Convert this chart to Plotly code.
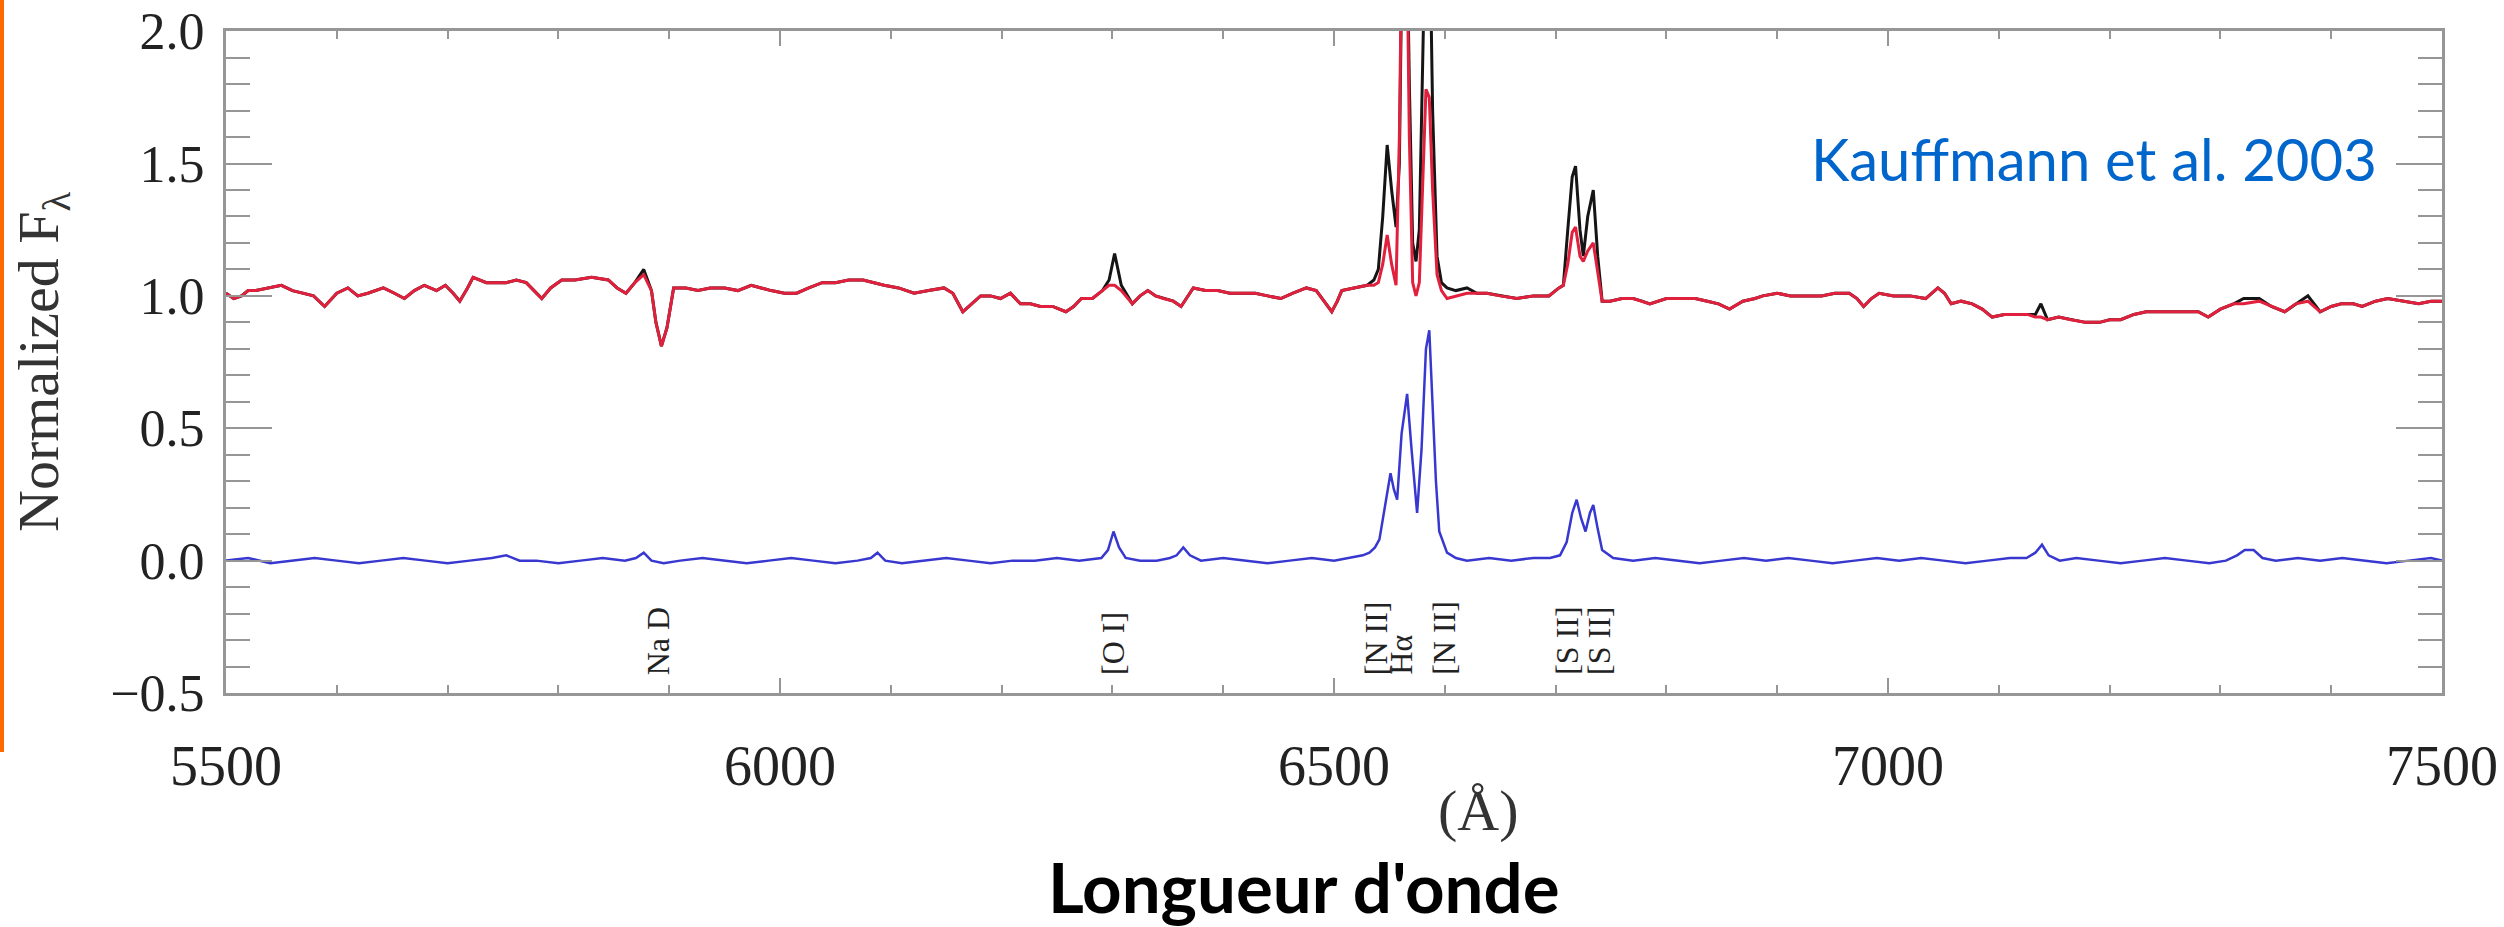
import plotly.graph_objects as go

# ---------------- data ----------------
wave = [5500, 5507, 5514, 5520, 5527, 5538, 5550, 5560, 5569, 5579, 5589, 5600, 5610, 5619, 5628,
        5642, 5652, 5661, 5670, 5679, 5690, 5698, 5705, 5711, 5718, 5723, 5735, 5745, 5753, 5762,
        5771, 5778, 5785, 5793, 5803, 5815, 5830, 5845, 5853, 5861, 5869, 5877, 5884, 5888, 5893,
        5898, 5904, 5915, 5926, 5937, 5950, 5962, 5974, 5983, 5992, 6004, 6015, 6026, 6038, 6050,
        6062, 6075, 6084, 6094, 6107, 6121, 6134, 6148, 6156, 6165, 6173, 6181, 6190, 6199, 6208,
        6217, 6226, 6235, 6246, 6258, 6265, 6272, 6282, 6291, 6297, 6302, 6308, 6318, 6325, 6332,
        6339, 6346, 6355, 6362, 6368, 6373, 6384, 6395, 6406, 6418, 6429, 6440, 6452, 6463, 6475,
        6484, 6491, 6498, 6503, 6507, 6518, 6530, 6536, 6540, 6544, 6548, 6552, 6556, 6559, 6562,
        6565, 6568, 6571, 6574, 6577, 6580, 6583, 6586, 6589, 6593, 6597, 6602, 6610, 6620, 6629,
        6638, 6650, 6665, 6680, 6694, 6703, 6707, 6711, 6715, 6718, 6722, 6725, 6729, 6734, 6738,
        6742, 6749, 6760, 6770, 6778, 6785, 6800, 6815, 6826, 6837, 6847, 6857, 6869, 6880, 6887,
        6900, 6912, 6923, 6940, 6952, 6965, 6972, 6978, 6985, 6992, 7005, 7020, 7034, 7045, 7051,
        7057, 7066, 7076, 7085, 7094, 7105, 7115, 7126, 7133, 7138, 7144, 7154, 7165, 7178, 7191,
        7200, 7210, 7222, 7233, 7250, 7270, 7280, 7289, 7300, 7312, 7321, 7335, 7346, 7358, 7368,
        7379, 7390, 7400, 7409, 7420, 7428, 7440, 7451, 7465, 7479, 7490, 7500]

flux_black = [1.01, 0.99, 1.00, 1.02, 1.02, 1.03, 1.04, 1.02, 1.01, 1.00, 0.96, 1.01, 1.03, 1.00, 1.01,
              1.03, 1.01, 0.99, 1.02, 1.04, 1.02, 1.04, 1.01, 0.98, 1.03, 1.07, 1.05, 1.05, 1.05, 1.06,
              1.05, 1.02, 0.99, 1.03, 1.06, 1.06, 1.07, 1.06, 1.03, 1.01, 1.05, 1.10, 1.02, 0.90, 0.81,
              0.88, 1.03, 1.03, 1.02, 1.03, 1.03, 1.02, 1.04, 1.03, 1.02, 1.01, 1.01, 1.03, 1.05, 1.05,
              1.06, 1.06, 1.05, 1.04, 1.03, 1.01, 1.02, 1.03, 1.01, 0.94, 0.97, 1.00, 1.00, 0.99, 1.01,
              0.97, 0.97, 0.96, 0.96, 0.94, 0.96, 0.99, 0.99, 1.02, 1.06, 1.16, 1.04, 0.97, 1.00, 1.02,
              1.00, 0.99, 0.98, 0.96, 1.00, 1.03, 1.02, 1.02, 1.01, 1.01, 1.01, 1.00, 0.99, 1.01, 1.03,
              1.02, 0.98, 0.94, 0.98, 1.02, 1.03, 1.04, 1.06, 1.10, 1.30, 1.57, 1.40, 1.26, 1.50, 2.50,
              2.60, 1.80, 1.20, 1.13, 1.25, 2.00, 2.50, 2.50, 1.70, 1.15, 1.05, 1.03, 1.02, 1.03, 1.01,
              1.01, 1.00, 0.99, 1.00, 1.00, 1.03, 1.04, 1.25, 1.45, 1.49, 1.25, 1.15, 1.30, 1.40, 1.15,
              0.98, 0.98, 0.99, 0.99, 0.98, 0.97, 0.99, 0.99, 0.99, 0.98, 0.97, 0.95, 0.98, 0.99, 1.00,
              1.01, 1.00, 1.00, 1.00, 1.01, 1.01, 0.99, 0.96, 0.99, 1.01, 1.00, 1.00, 0.99, 1.03, 1.01,
              0.97, 0.98, 0.97, 0.95, 0.92, 0.93, 0.93, 0.93, 0.93, 0.97, 0.91, 0.92, 0.91, 0.90, 0.90,
              0.91, 0.91, 0.93, 0.94, 0.94, 0.94, 0.94, 0.92, 0.95, 0.97, 0.99, 0.99, 0.96, 0.94, 0.97,
              1.00, 0.94, 0.96, 0.97, 0.97, 0.96, 0.98, 0.99, 0.98, 0.97, 0.98, 0.98]

flux_red = [1.01, 0.99, 1.00, 1.02, 1.02, 1.03, 1.04, 1.02, 1.01, 1.00, 0.96, 1.01, 1.03, 1.00, 1.01,
            1.03, 1.01, 0.99, 1.02, 1.04, 1.02, 1.04, 1.01, 0.98, 1.03, 1.07, 1.05, 1.05, 1.05, 1.06,
            1.05, 1.02, 0.99, 1.03, 1.06, 1.06, 1.07, 1.06, 1.03, 1.01, 1.05, 1.08, 1.02, 0.90, 0.81,
            0.88, 1.03, 1.03, 1.02, 1.03, 1.03, 1.02, 1.04, 1.03, 1.02, 1.01, 1.01, 1.03, 1.05, 1.05,
            1.06, 1.06, 1.05, 1.04, 1.03, 1.01, 1.02, 1.03, 1.01, 0.94, 0.97, 1.00, 1.00, 0.99, 1.01,
            0.97, 0.97, 0.96, 0.96, 0.94, 0.96, 0.99, 0.99, 1.02, 1.04, 1.04, 1.02, 0.97, 1.00, 1.02,
            1.00, 0.99, 0.98, 0.96, 1.00, 1.03, 1.02, 1.02, 1.01, 1.01, 1.01, 1.00, 0.99, 1.01, 1.03,
            1.02, 0.98, 0.94, 0.98, 1.02, 1.03, 1.04, 1.04, 1.05, 1.12, 1.23, 1.12, 1.04, 1.60, 2.60,
            2.60, 1.60, 1.05, 1.00, 1.05, 1.40, 1.78, 1.75, 1.40, 1.08, 1.02, 0.99, 1.00, 1.01, 1.01,
            1.01, 1.00, 0.99, 1.00, 1.00, 1.03, 1.04, 1.12, 1.24, 1.26, 1.15, 1.13, 1.17, 1.20, 1.08,
            0.98, 0.98, 0.99, 0.99, 0.98, 0.97, 0.99, 0.99, 0.99, 0.98, 0.97, 0.95, 0.98, 0.99, 1.00,
            1.01, 1.00, 1.00, 1.00, 1.01, 1.01, 0.99, 0.96, 0.99, 1.01, 1.00, 1.00, 0.99, 1.03, 1.01,
            0.97, 0.98, 0.97, 0.95, 0.92, 0.93, 0.93, 0.93, 0.92, 0.92, 0.91, 0.92, 0.91, 0.90, 0.90,
            0.91, 0.91, 0.93, 0.94, 0.94, 0.94, 0.94, 0.92, 0.95, 0.97, 0.97, 0.98, 0.96, 0.94, 0.97,
            0.98, 0.94, 0.96, 0.97, 0.97, 0.96, 0.98, 0.99, 0.98, 0.97, 0.98, 0.98]

wave_res = [5500, 5520, 5540, 5560, 5580, 5600, 5620, 5640, 5660, 5680, 5700, 5720, 5740, 5753, 5765,
            5780, 5800, 5820, 5840, 5860, 5870, 5877, 5884, 5895, 5910, 5930, 5950, 5970, 5990, 6010,
            6030, 6050, 6070, 6082, 6088, 6095, 6110, 6130, 6150, 6170, 6190, 6210, 6230, 6250, 6270,
            6290, 6296, 6301, 6306, 6312, 6325, 6340, 6352, 6358, 6364, 6370, 6380, 6400, 6420, 6440,
            6460, 6480, 6500, 6514, 6526, 6532, 6537, 6541, 6546, 6551, 6554, 6557, 6561, 6566, 6570,
            6575, 6579, 6583, 6586, 6589, 6592, 6595, 6602, 6610, 6620, 6640, 6660, 6680, 6695, 6704,
            6710, 6715, 6719, 6723, 6727, 6731, 6734, 6738, 6742, 6752, 6770, 6790, 6810, 6830, 6850,
            6870, 6890, 6910, 6930, 6950, 6970, 6990, 7010, 7030, 7050, 7070, 7090, 7110, 7125, 7133,
            7139, 7145, 7155, 7170, 7190, 7210, 7230, 7250, 7270, 7290, 7305, 7315, 7322, 7330, 7338,
            7350, 7370, 7390, 7410, 7430, 7450, 7470, 7490, 7500]

flux_blue = [0.00, 0.01, -0.01, 0.00, 0.01, 0.00, -0.01, 0.00, 0.01, 0.00, -0.01, 0.00, 0.01, 0.02, 0.00,
             0.00, -0.01, 0.00, 0.01, 0.00, 0.01, 0.03, 0.00, -0.01, 0.00, 0.01, 0.00, -0.01, 0.00, 0.01,
             0.00, -0.01, 0.00, 0.01, 0.03, 0.00, -0.01, 0.00, 0.01, 0.00, -0.01, 0.00, 0.00, 0.01, 0.00,
             0.01, 0.04, 0.11, 0.05, 0.01, 0.00, 0.00, 0.01, 0.02, 0.05, 0.02, 0.00, 0.01, 0.00, -0.01,
             0.00, 0.01, 0.00, 0.01, 0.02, 0.03, 0.05, 0.08, 0.20, 0.33, 0.27, 0.23, 0.48, 0.63, 0.42,
             0.18, 0.42, 0.80, 0.87, 0.60, 0.30, 0.11, 0.03, 0.01, 0.00, 0.01, 0.00, 0.01, 0.01, 0.02,
             0.07, 0.18, 0.23, 0.16, 0.11, 0.18, 0.21, 0.12, 0.04, 0.01, 0.00, 0.01, 0.00, -0.01, 0.00,
             0.01, 0.00, 0.01, 0.00, -0.01, 0.00, 0.01, 0.00, 0.01, 0.00, -0.01, 0.00, 0.01, 0.01, 0.03,
             0.06, 0.02, 0.00, 0.01, 0.00, -0.01, 0.00, 0.01, 0.00, -0.01, 0.00, 0.02, 0.04, 0.04, 0.01,
             0.00, 0.01, 0.00, 0.01, 0.00, -0.01, 0.00, 0.01, 0.00]

line_names = ["Na D", "[O I]", "[N II]", "Hα", "[N II]", "[S II]", "[S II]"]
line_label_wave = [5890, 6300, 6538, 6561, 6599, 6710, 6739]

x_tick_vals = [5500, 6000, 6500, 7000, 7500]
y_tick_vals = [-0.5, 0.0, 0.5, 1.0, 1.5, 2.0]
y_tick_text = ["\u22120.5", "0.0", "0.5", "1.0", "1.5", "2.0"]

# ---------------- figure ----------------
W, H = 2504, 927
ML, MR, MT, MB = 226, 62, 31, 234
PW, PH = W - ML - MR, H - MT - MB

def px_x(x):
    return (x - ML) / PW

def px_y(y):
    return (H - MB - y) / PH

SERIF = "Liberation Serif, Times New Roman, serif"
AX = "rgb(150,150,150)"

fig = go.Figure()
fig.add_trace(go.Scatter(x=wave, y=flux_black, mode="lines",
                         line=dict(color="#151515", width=3), showlegend=False))
fig.add_trace(go.Scatter(x=wave, y=flux_red, mode="lines",
                         line=dict(color="#E0203C", width=3), showlegend=False))
fig.add_trace(go.Scatter(x=wave_res, y=flux_blue, mode="lines",
                         line=dict(color="#3838D0", width=2.5), showlegend=False))

for name, lw in zip(line_names, line_label_wave):
    fig.add_annotation(x=lw, y=-0.44, xref="x", yref="y", text=name, textangle=-90,
                       showarrow=False, xanchor="center", yanchor="bottom",
                       font=dict(family=SERIF, size=32, color="#222"))

# axis titles and extra texts
fig.add_annotation(x=px_x(42), y=0.5, xref="paper", yref="paper", text="Normalized F<sub>λ</sub>",
                   textangle=-90, showarrow=False, xanchor="center", yanchor="middle",
                   font=dict(family=SERIF, size=58, color="#333"))
fig.add_annotation(x=px_x(1478), y=px_y(810), xref="paper", yref="paper", text="(Å)",
                   showarrow=False, xanchor="center", yanchor="middle",
                   font=dict(family=SERIF, size=58, color="#333"))
fig.add_annotation(x=px_x(1304), y=px_y(886), xref="paper", yref="paper", text="<b>Longueur d'onde</b>",
                   showarrow=False, xanchor="center", yanchor="middle",
                   font=dict(family="Lato, sans-serif", size=69, color="#000"))
fig.add_annotation(x=px_x(2094), y=px_y(158), xref="paper", yref="paper", text="Kauffmann et al. 2003",
                   showarrow=False, xanchor="center", yanchor="middle",
                   font=dict(family="Lato, sans-serif", size=58, color="#0066CC"))

# orange slide bar at the left edge
fig.add_shape(type="line", xref="paper", yref="paper", x0=px_x(2), x1=px_x(2), y0=px_y(752), y1=px_y(0),
              line=dict(color="#FF6A00", width=4))

fig.update_layout(
    width=W, height=H, margin=dict(l=ML, r=MR, t=MT, b=MB, autoexpand=False),
    paper_bgcolor="white", plot_bgcolor="white",
    xaxis=dict(range=[5500, 7500], tickvals=x_tick_vals, ticks="inside", ticklen=15, tickwidth=2,
               tickcolor=AX, showline=True, linecolor=AX, linewidth=3, mirror="allticks",
               showgrid=False, zeroline=False, ticklabeloverflow="allow", automargin=False,
               minor=dict(dtick=100, ticks="inside", ticklen=8, tickwidth=2, tickcolor=AX, showgrid=False),
               tickfont=dict(family=SERIF, size=56, color="#222"), ticklabelstandoff=22),
    yaxis=dict(range=[-0.5, 2.0005], tickvals=y_tick_vals, ticktext=y_tick_text, ticks="inside", ticklen=46,
               tickwidth=2, tickcolor=AX, showline=True, linecolor=AX, linewidth=3, mirror="allticks",
               showgrid=False, zeroline=False, ticklabeloverflow="allow", automargin=False,
               minor=dict(dtick=0.1, ticks="inside", ticklen=24, tickwidth=2, tickcolor=AX, showgrid=False),
               tickfont=dict(family=SERIF, size=52, color="#222"), ticklabelstandoff=8),
)

fig.write_html("out.html")
